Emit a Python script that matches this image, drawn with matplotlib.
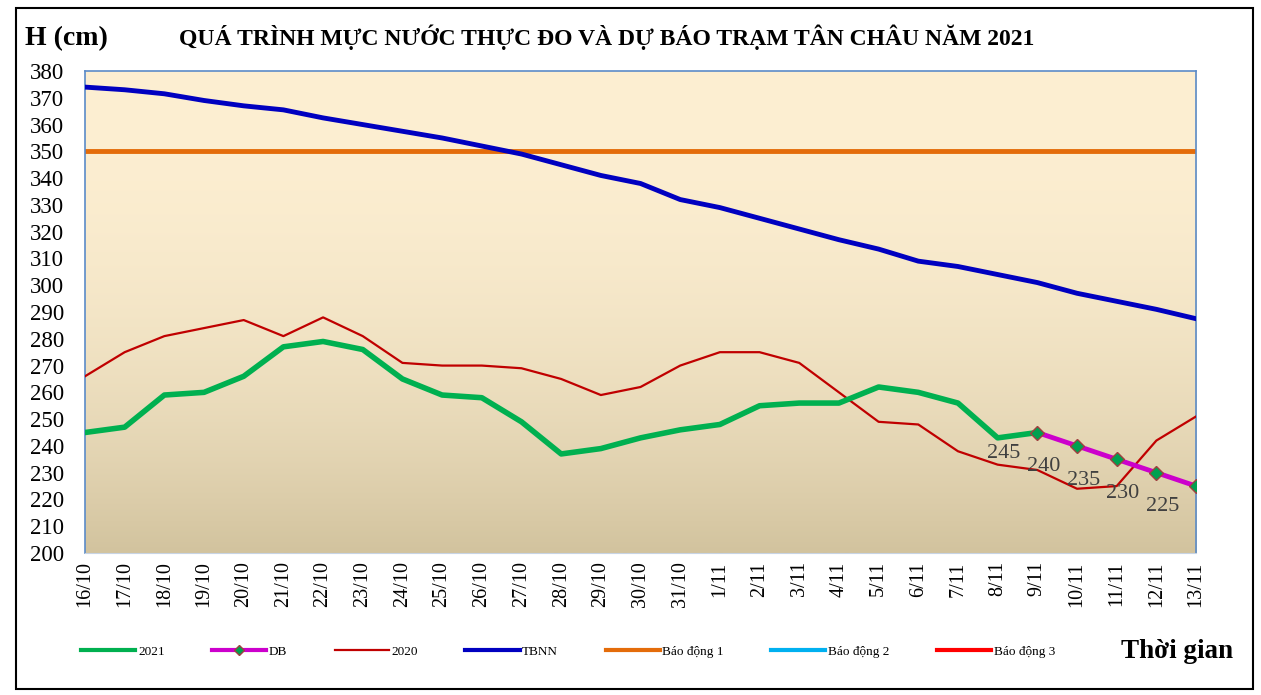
import numpy as np
import matplotlib.pyplot as plt
from matplotlib.lines import Line2D

plt.rcParams['font.family'] = ['Liberation Serif', 'DejaVu Serif']

# ngày
ngay = ["16/10", "17/10", "18/10", "19/10", "20/10", "21/10", "22/10", "23/10",
        "24/10", "25/10", "26/10", "27/10", "28/10", "29/10", "30/10", "31/10",
        "1/11", "2/11", "3/11", "4/11", "5/11", "6/11", "7/11", "8/11", "9/11",
        "10/11", "11/11", "12/11", "13/11"]

h2021 = [245, 247, 259, 260, 266, 277, 279, 276, 265, 259, 258, 249, 237, 239,
         243, 246, 248, 255, 256, 256, 262, 260, 256, 243, 245]
db = [245, 240, 235, 230, 225]
h2020 = [266, 275, 281, 284, 287, 281, 288, 281, 271, 270, 270, 269, 265, 259,
         262, 270, 275, 275, 271, 260, 249, 248, 238, 233, 231, 224, 225, 242, 251]
tbnn = [374, 373, 371.5, 369, 367, 365.5, 362.5, 360, 357.5, 355, 352, 349, 345,
        341, 338, 332, 329, 325, 321, 317, 313.5, 309, 307, 304, 301, 297, 294,
        291, 287.5]
bao_dong_1 = 350

x = np.arange(len(ngay))
x2021 = x[:len(h2021)]
xdb = x[len(h2021) - 1:]

fig = plt.figure(figsize=(12.61, 6.95), dpi=100)
ax = fig.add_axes([0.0674, 0.2043, 0.8811, 0.6935])

# nền chuyển màu
grad = np.linspace(0, 1, 256) ** 2.2
c_top = np.array([253, 239, 210]) / 255
c_bot = np.array([210, 195, 158]) / 255
img = c_top[None, :] * (1 - grad[:, None]) + c_bot[None, :] * grad[:, None]
ax.imshow(img[:, None, :], extent=[0, 1, 0, 1], transform=ax.transAxes,
          aspect='auto', zorder=0)

ax.axhline(bao_dong_1, color='#E46C0A', lw=3.5, zorder=2)
ax.plot(x, tbnn, color='#0000C0', lw=3.5, zorder=3)
ax.plot(x, h2020, color='#C00000', lw=1.6, zorder=3)
ax.plot(x2021, h2021, color='#00B050', lw=4, zorder=4)
ax.plot(xdb, db, color='#CC00CC', lw=3.5, marker='D', ms=7,
        mfc='#00A050', mec='#A04040', mew=1, zorder=5)
for xi, v in zip(xdb, db):
    ax.annotate(str(v), (xi, v), xytext=(-24, -15), textcoords='offset points',
                ha='center', va='center', fontsize=16, color='#404040', zorder=6)

ax.set_xlim(0, len(ngay) - 1)
ax.set_ylim(200, 380)
ax.set_yticks(np.arange(200, 381, 10))
ax.set_xticks(x)
ax.set_xticklabels(ngay, rotation=90)
ax.tick_params(axis='y', labelsize=16.5, length=0, pad=15)
ax.tick_params(axis='x', labelsize=14.5, length=0, pad=6)
for s in ['left', 'top', 'right']:
    ax.spines[s].set_color('#5B8BC8')
    ax.spines[s].set_linewidth(1.2)
ax.spines['bottom'].set_color('#C8D4E4')

fig.text(0.02, 0.945, "H (cm)", fontsize=20, fontweight='bold', va='center')
fig.text(0.481, 0.947, "QUÁ TRÌNH MỰC NƯỚC THỰC ĐO VÀ DỰ BÁO TRẠM TÂN CHÂU NĂM 2021",
         fontsize=17, fontweight='bold', ha='center', va='center')
fig.text(0.978, 0.062, "Thời gian", fontsize=19.5, fontweight='bold',
         ha='right', va='center')

handles = [
    Line2D([], [], color='#00B050', lw=3),
    Line2D([], [], color='#CC00CC', lw=3, marker='D', ms=5, mfc='#00A050', mec='#A04040'),
    Line2D([], [], color='#C00000', lw=1.6),
    Line2D([], [], color='#0000C0', lw=3),
    Line2D([], [], color='#E46C0A', lw=3),
    Line2D([], [], color='#00B0F0', lw=3),
    Line2D([], [], color='#FF0000', lw=3),
]
labels = ["2021", "DB", "2020", "TBNN", "Báo động 1", "Báo động 2", "Báo động 3"]
fig.legend(handles, labels, loc='center left', bbox_to_anchor=(0.055, 0.062),
           ncol=7, frameon=False, fontsize=9.5, handlelength=4.1,
           handletextpad=0.2, columnspacing=3.6)

# khung ngoài
fig.patches.append(plt.Rectangle((0.013, 0.008), 0.981, 0.98, transform=fig.transFigure,
                                 fill=False, ec='black', lw=1.5))

fig.savefig("out.png", dpi=100)
